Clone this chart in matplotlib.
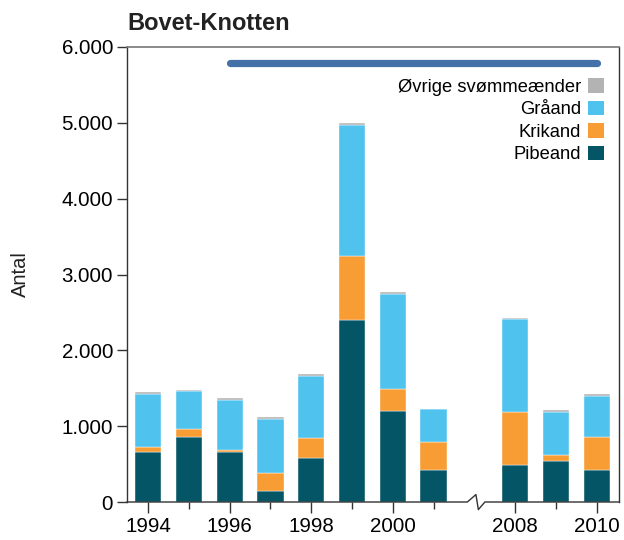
import matplotlib
matplotlib.use("Agg")
import matplotlib.pyplot as plt
from matplotlib.ticker import FuncFormatter
from matplotlib.patches import Patch
import numpy as np

plt.rcParams["font.family"] = ["Liberation Sans", "DejaVu Sans"]

years = [1994, 1995, 1996, 1997, 1998, 1999, 2000, 2001, 2008, 2009, 2010]
pibeand = [663, 862, 663, 145, 585, 2405, 1205, 426, 484, 545, 426]
krikand = [63, 101, 23, 238, 264, 844, 281, 362, 703, 79, 436]
graaand = [695, 501, 656, 716, 817, 1727, 1253, 439, 1222, 563, 540]
ovrige = [26, 18, 26, 26, 22, 26, 27, 4, 18, 26, 27]

labels = ["Pibeand", "Krikand", "Gråand", "Øvrige svømmeænder"]
colors = ["#045566", "#f89c34", "#4fc3ee", "#b3b3b3"]

line_years = [1996, 2010]
line_level = 5790

tick_labels = {1994: "1994", 1996: "1996", 1998: "1998", 2000: "2000",
               2008: "2008", 2010: "2010"}


def slot(y):
    # compressed axis: 1994-2001 then a break, 2008-2010
    return y - 1994 if y <= 2001 else y - 2008 + 9


x = np.array([slot(y) for y in years])

fig = plt.figure(figsize=(6.24, 5.4), dpi=100)
ax = fig.add_axes([127 / 624, 38 / 540, 492 / 624, 455 / 540])

bottom = np.zeros(len(years))
for vals, lab, col in zip([pibeand, krikand, graaand, ovrige], labels, colors):
    ax.bar(x, vals, width=0.64, bottom=bottom, color=col, label=lab,
           edgecolor="white", linewidth=0.3, zorder=2)
    bottom += np.array(vals)

ax.plot([slot(line_years[0]), slot(line_years[1])], [line_level, line_level],
        color="#4472a8", lw=5.2, solid_capstyle="round", zorder=3)

ax.set_xlim(-0.52, 11.55)
ax.set_ylim(0, 6000)

ax.set_yticks(range(0, 6001, 1000))
ax.yaxis.set_major_formatter(FuncFormatter(lambda v, p: f"{int(v):,}".replace(",", ".")))

major = [slot(y) for y in years if y in tick_labels]
minor = [slot(y) for y in years if y not in tick_labels]
ax.set_xticks(major)
ax.set_xticklabels([tick_labels[y] for y in years if y in tick_labels])
ax.set_xticks(minor, minor=True)

ax.tick_params(axis="x", which="major", length=8, width=1.0, color="#333333",
               labelsize=14.8, pad=3)
ax.tick_params(axis="x", which="minor", length=5, width=1.0, color="#333333")
ax.tick_params(axis="y", length=7, width=1.0, color="#333333", labelsize=14.8, pad=3)

for s in ["left", "right"]:
    ax.spines[s].set_color("#333333")
    ax.spines[s].set_linewidth(1.0)
ax.spines["top"].set_color("#777777")
ax.spines["top"].set_linewidth(1.2)
ax.spines["bottom"].set_visible(False)

# bottom axis line with break mark
bx = [-0.52, 7.83, 8.04, 8.10, 8.26, 11.55]
by = [0, 0, 98, -100, 0, 0]
ax.plot(bx, by, color="#333333", lw=1.0, clip_on=False, zorder=4)

ax.set_ylabel("Antal", fontsize=14.5, labelpad=23, color="#222222")
ax.set_title("Bovet-Knotten", loc="left", fontsize=17, fontweight="bold",
             pad=12, color="#222222")

handles = [Patch(facecolor=c, edgecolor="none") for c in colors][::-1]
leg = ax.legend(handles, labels[::-1], loc="upper right", frameon=False,
                markerfirst=False, fontsize=13.2, handlelength=0.85,
                handleheight=0.85, handletextpad=0.4, labelspacing=0.26,
                borderpad=0, borderaxespad=0,
                bbox_to_anchor=(0.9695, 0.931))

fig.savefig("out.png", dpi=100)
